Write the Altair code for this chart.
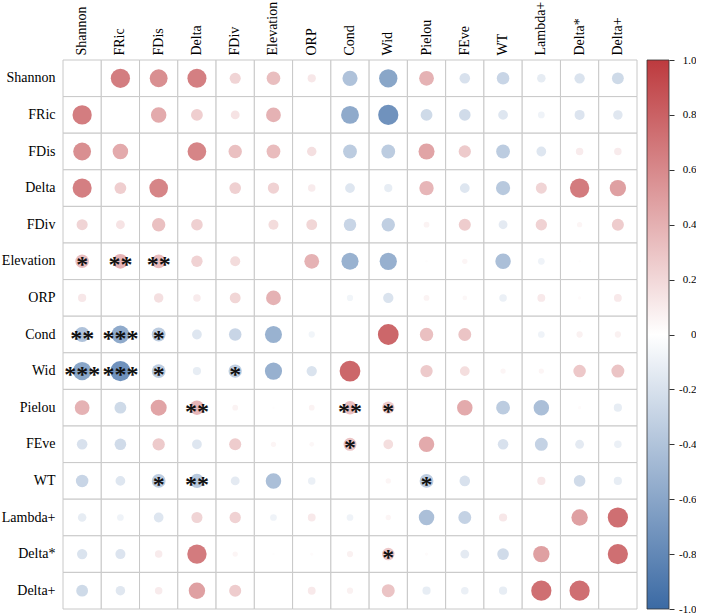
import altair as alt
import pandas as pd

variables = ["Shannon", "FRic", "FDis", "Delta", "FDiv", "Elevation", "ORP", "Cond",
             "Wid", "Pielou", "FEve", "WT", "Lambda+", "Delta*", "Delta+"]

# Lower triangle of the correlation matrix: row i holds r with variables[0..i-1]
lower = [
    [],
    [0.66],
    [0.57, 0.43],
    [0.65, 0.25, 0.62],
    [0.22, 0.14, 0.32, 0.24],
    [0.33, 0.39, 0.34, 0.23, 0.18],
    [0.12, 0.00, 0.16, 0.10, 0.21, 0.39],
    [-0.41, -0.57, -0.34, -0.17, -0.28, -0.52, -0.07],
    [-0.60, -0.73, -0.34, -0.12, -0.32, -0.53, -0.19, 0.77],
    [0.39, -0.25, 0.46, 0.37, 0.06, 0.01, 0.06, 0.32, 0.27],
    [-0.20, -0.24, 0.27, -0.17, 0.26, 0.05, 0.04, 0.30, 0.17, 0.43],
    [-0.28, -0.17, -0.34, -0.36, -0.14, -0.43, -0.10, 0.00, 0.05, -0.34, -0.20],
    [-0.13, -0.08, -0.17, 0.22, 0.23, -0.08, 0.11, -0.08, 0.05, -0.43, -0.30, 0.12],
    [-0.19, -0.18, 0.10, 0.67, 0.05, 0.01, 0.02, 0.07, 0.28, 0.02, -0.14, -0.24, 0.48],
    [-0.25, -0.16, 0.10, 0.48, 0.26, 0.00, 0.11, 0.07, 0.30, -0.12, -0.10, -0.12, 0.73, 0.73],
]

# Significance marks shown in the lower triangle (row variable, column variable)
stars = {
    ("Elevation", "Shannon"): "*", ("Elevation", "FRic"): "**", ("Elevation", "FDis"): "**",
    ("Cond", "Shannon"): "**", ("Cond", "FRic"): "***", ("Cond", "FDis"): "*",
    ("Wid", "Shannon"): "***", ("Wid", "FRic"): "***", ("Wid", "FDis"): "*", ("Wid", "FDiv"): "*",
    ("Pielou", "Delta"): "**", ("Pielou", "Cond"): "**", ("Pielou", "Wid"): "*",
    ("FEve", "Cond"): "*",
    ("WT", "FDis"): "*", ("WT", "Delta"): "**", ("WT", "Pielou"): "*",
    ("Delta*", "Wid"): "*",
}

colorbar_ticks = [1.0, 0.8, 0.6, 0.4, 0.2, 0.0, -0.2, -0.4, -0.6, -0.8, -1.0]

BLUE, WHITE, RED = "#3b6aa4", "#ffffff", "#bd3a3e"
FONT = "Liberation Serif"

# Full symmetric matrix as long-form records
cells, circles = [], []
for i, rv in enumerate(variables):
    for j, cv in enumerate(variables):
        cells.append({"row": rv, "col": cv})
        if i == j:
            continue
        r = lower[i][j] if j < i else lower[j][i]
        circles.append({"row": rv, "col": cv, "r": r, "absr": abs(r)})
cells_df = pd.DataFrame(cells)
circ_df = pd.DataFrame(circles)
star_df = pd.DataFrame([{"row": k[0], "col": k[1], "sig": v} for k, v in stars.items()])

xscale = alt.Scale(type="band", domain=variables, paddingInner=0, paddingOuter=0)
yscale = alt.Scale(type="band", domain=variables, paddingInner=0, paddingOuter=0)
xaxis = alt.Axis(orient="top", title=None, ticks=False, domain=False, labelAngle=270,
                 labelAlign="left", labelBaseline="middle", labelPadding=5,
                 labelFont=FONT, labelFontSize=14, labelColor="#000")
yaxis = alt.Axis(orient="left", title=None, ticks=False, domain=False, labelPadding=8,
                 labelFont=FONT, labelFontSize=14, labelColor="#000")

grid = alt.Chart(cells_df).mark_rect(fill="white", stroke="#c8c8c8", strokeWidth=1).encode(
    x=alt.X("col:N", scale=xscale, axis=xaxis),
    y=alt.Y("row:N", scale=yscale, axis=yaxis),
)

dots = alt.Chart(circ_df).mark_circle(opacity=1).encode(
    x=alt.X("col:N", scale=xscale),
    y=alt.Y("row:N", scale=yscale),
    size=alt.Size("absr:Q", scale=alt.Scale(domain=[0, 1], range=[0, 560], zero=True), legend=None),
    color=alt.Color("r:Q", scale=alt.Scale(domain=[-1, 0, 1], range=[BLUE, WHITE, RED],
                                           interpolate="rgb"), legend=None),
)

sig = alt.Chart(star_df).mark_text(font=FONT, fontSize=24, fontWeight="bold", color="#111",
                                   baseline="middle", align="center", dy=4).encode(
    x=alt.X("col:N", scale=xscale),
    y=alt.Y("row:N", scale=yscale),
    text="sig:N",
)

main = alt.layer(grid, dots, sig).properties(width=574, height=549)

# Colour bar drawn as one gradient-filled rect on a [-1, 1] scale
bar_df = pd.DataFrame({"lo": [-1.0], "hi": [1.0]})
bar = alt.Chart(bar_df).mark_rect(
    fill=alt.Gradient(gradient="linear", x1=0, x2=0, y1=0, y2=1,
                      stops=[alt.GradientStop(offset=0, color=RED),
                             alt.GradientStop(offset=0.5, color=WHITE),
                             alt.GradientStop(offset=1, color=BLUE)]),
    stroke="#333", strokeWidth=0.8,
).encode(
    y=alt.Y("lo:Q", scale=alt.Scale(domain=[-1, 1], nice=False, zero=False),
            axis=alt.Axis(orient="right", title=None, values=colorbar_ticks, grid=False,
                          domain=False, ticks=True, tickSize=5, tickColor="#333",
                          labelAlign="right", labelBaseline="middle", labelPadding=22,
                          labelFont=FONT, labelFontSize=11, labelColor="#000",
                          labelExpr="datum.value == 0 ? '0' : (datum.value < 0 ? '-' : '') + format(abs(datum.value), '.1f')")),
    y2="hi:Q",
).properties(width=22, height=549)

chart = alt.hconcat(main, bar, spacing=10, bounds="flush").properties(
    padding={"left": 1, "top": 1, "right": 0, "bottom": 0},
    background="white",
).configure_view(stroke=None)

chart.save("out.html", embed_options={"renderer": "svg", "actions": False})
